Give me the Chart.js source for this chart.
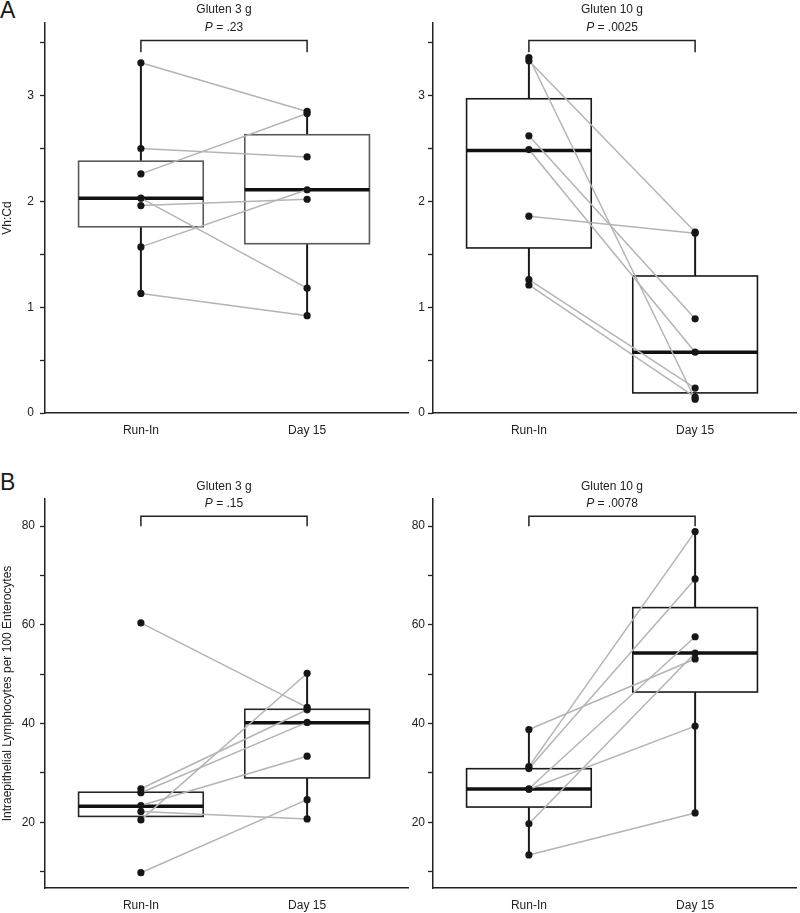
<!DOCTYPE html>
<html lang="en">
<head>
  <meta charset="UTF-8">
  <title>Vh:Cd and IEL</title>
  <script src="https://cdn.jsdelivr.net/npm/chart.js"></script>
  <style>
    body { margin: 0; background: #fff; width: 800px; height: 913px; position: relative; overflow: hidden; }
    canvas { position: absolute; }
    .letter { position: absolute; font-family: "Liberation Sans", Arial, sans-serif; font-size: 23px; color: #1a1a1a; }
  </style>
</head>
<body>
  <div class="letter" style="left:0px; top:-3px;">A</div>
  <div class="letter" style="left:0px; top:469px;">B</div>
  <canvas id="a3" width="412" height="445" style="left:0; top:0;"></canvas>
  <canvas id="a10" width="400" height="445" style="left:400px; top:0;"></canvas>
  <canvas id="b3" width="412" height="453" style="left:0; top:460px;"></canvas>
  <canvas id="b10" width="400" height="453" style="left:400px; top:460px;"></canvas>

<script>
  const categories = ['Run-In', 'Day 15'];
  const doseTitles = ['Gluten 3 g', 'Gluten 10 g'];
  const pVhcd = ['.23', '.0025'];
  const pIel = ['.15', '.0078'];

  // Vh:Cd, paired by index (Run-In -> Day 15)
  const vhcd3RunIn  = [3.31, 2.50, 2.26, 2.03, 1.96, 1.57, 1.13];
  const vhcd3Day15  = [2.85, 2.42, 2.83, 1.18, 2.02, 2.11, 0.92];
  const vhcd10RunIn = [3.36, 3.33, 2.62, 2.49, 1.86, 1.26, 1.21];
  const vhcd10Day15 = [0.13, 1.71, 0.89, 0.575, 1.70, 0.236, 0.15];

  // IEL per 100 enterocytes
  const iel3RunIn  = [60.4, 26.8, 26.0, 23.4, 22.2, 20.5, 9.8];
  const iel3Day15  = [43.3, 42.8, 40.25, 33.4, 20.7, 50.2, 24.6];
  const iel10RunIn = [38.8, 31.3, 30.9, 26.8, 26.7, 19.7, 13.4];
  const iel10Day15 = [53.1, 78.9, 69.3, 57.6, 39.5, 54.3, 21.9];

  // box stats: [whisker low, Q1, median, Q3, whisker high]
  const vhcd3BoxRunIn  = [1.13, 1.76, 2.03, 2.38, 3.31];
  const vhcd3BoxDay15  = [0.92, 1.60, 2.11, 2.63, 2.85];
  const vhcd10BoxRunIn = [1.21, 1.56, 2.48, 2.97, 3.36];
  const vhcd10BoxDay15 = [0.13, 0.19, 0.575, 1.295, 1.71];
  const iel3BoxRunIn   = [20.5, 21.2, 23.25, 26.1, 26.8];
  const iel3BoxDay15   = [20.7, 29.0, 40.2, 42.9, 50.2];
  const iel10BoxRunIn  = [13.4, 23.1, 26.76, 30.87, 38.8];
  const iel10BoxDay15  = [21.9, 46.4, 54.3, 63.5, 78.9];

  const vhcdTicks = [0, 0.5, 1, 1.5, 2, 2.5, 3, 3.5];
  const vhcdTickLabels = ['0', '', '1', '', '2', '', '3', ''];
  const ielTicks = [10, 20, 30, 40, 50, 60, 70, 80];
  const ielTickLabels = ['', '20', '', '40', '', '60', '', '80'];

  const vhcdBracket = [3.41, 3.52];
  const ielBracket = [80, 82];

  Chart.defaults.font.family = '"Liberation Sans", Arial, sans-serif';
  Chart.defaults.font.size = 12;
  Chart.defaults.color = '#222';

  const FONT = '12px "Liberation Sans", Arial, sans-serif';
  const FONT_I = 'italic 12px "Liberation Sans", Arial, sans-serif';

  const boxPlugin = {
    id: 'boxes',
    beforeDatasetsDraw(chart, args, opts) {
      const {ctx, scales: {x, y}} = chart;
      opts.stats.forEach((s, i) => {
        const cx = x.getPixelForValue(i + 1);
        const half = x.getPixelForValue(i + 1 + 0.375) - cx;
        const [lo, q1, med, q3, hi] = s.map(v => y.getPixelForValue(v));
        ctx.save();
        ctx.strokeStyle = '#1a1a1a';
        ctx.lineWidth = 2;
        ctx.beginPath();
        ctx.moveTo(cx, lo); ctx.lineTo(cx, q1);
        ctx.moveTo(cx, q3); ctx.lineTo(cx, hi);
        ctx.stroke();
        ctx.fillStyle = '#fff';
        ctx.fillRect(cx - half, q3, half * 2, q1 - q3);
        ctx.strokeStyle = opts.boxColor;
        ctx.lineWidth = 1.6;
        ctx.strokeRect(cx - half, q3, half * 2, q1 - q3);
        ctx.strokeStyle = '#111';
        ctx.lineWidth = 3.5;
        ctx.beginPath();
        ctx.moveTo(cx - half, med); ctx.lineTo(cx + half, med);
        ctx.stroke();
        ctx.restore();
      });
    }
  };

  const headPlugin = {
    id: 'head',
    afterDraw(chart, args, opts) {
      const {ctx, chartArea, scales: {x}} = chart;
      const cx = x.getPixelForValue(1.5);
      ctx.save();
      ctx.fillStyle = '#222';
      ctx.textBaseline = 'middle';
      ctx.textAlign = 'left';
      ctx.font = FONT;
      const tw = ctx.measureText(opts.title).width;
      ctx.fillText(opts.title, cx - tw / 2, chartArea.top + opts.titleDy);
      ctx.font = FONT_I;
      const pw = ctx.measureText('P').width;
      ctx.font = FONT;
      const rest = ' = ' + opts.p;
      const rw = ctx.measureText(rest).width;
      const sx = cx - (pw + rw) / 2;
      const py = chartArea.top + opts.pDy;
      ctx.font = FONT_I;
      ctx.fillText('P', sx, py);
      ctx.font = FONT;
      ctx.fillText(rest, sx + pw, py);
      ctx.restore();
    }
  };

  function makeChart(id, cfg) {
    const datasets = [];
    cfg.runIn.forEach((v, i) => {
      datasets.push({
        data: [{x: 1, y: v}, {x: 2, y: cfg.day15[i]}],
        showLine: true,
        borderColor: '#b4b4b4',
        borderWidth: 1.5,
        pointRadius: 0,
        order: 2
      });
    });
    datasets.push({
      data: cfg.runIn.map(v => ({x: 1, y: v})).concat(cfg.day15.map(v => ({x: 2, y: v}))),
      pointRadius: 3.6,
      pointBackgroundColor: '#161616',
      pointBorderWidth: 0,
      order: 1
    });
    datasets.push({
      data: [{x: 1, y: cfg.bracket[0]}, {x: 1, y: cfg.bracket[1]}, {x: 2, y: cfg.bracket[1]}, {x: 2, y: cfg.bracket[0]}],
      showLine: true,
      borderColor: '#222',
      borderWidth: 1.5,
      pointRadius: 0,
      order: 0
    });

    return new Chart(document.getElementById(id), {
      type: 'scatter',
      data: {datasets},
      options: {
        responsive: false,
        animation: false,
        layout: {padding: {top: cfg.padTop, left: 0, right: 0, bottom: 0}},
        plugins: {
          legend: {display: false},
          tooltip: {enabled: false},
          boxes: {stats: cfg.stats, boxColor: cfg.boxColor},
          head: {title: cfg.title, p: cfg.p, titleDy: cfg.titleDy, pDy: cfg.pDy}
        },
        scales: {
          x: {
            type: 'linear',
            min: 0.423,
            max: 2.607,
            afterBuildTicks: s => { s.ticks = [{value: 1}, {value: 2}]; },
            afterFit: s => { s.height = cfg.xHeight; },
            ticks: {
              callback: v => categories[v - 1],
              padding: 10,
              color: '#222',
              maxRotation: 0,
              autoSkip: false
            },
            grid: {display: false, drawTicks: false},
            border: {display: true, color: '#222', width: 1.5}
          },
          y: {
            min: cfg.range[0],
            max: cfg.range[1],
            afterBuildTicks: s => { s.ticks = cfg.ticks.map(v => ({value: v})); },
            afterFit: s => { s.width = cfg.yWidth; },
            ticks: {
              callback: (v, i) => cfg.tickLabels[cfg.ticks.indexOf(v)],
              padding: cfg.yPad,
              color: '#222',
              autoSkip: false
            },
            grid: {display: true, drawOnChartArea: false, drawTicks: true, tickLength: 5, tickColor: '#222', tickWidth: 1.3},
            border: {display: true, color: '#222', width: 1.5},
            title: {
              display: !!cfg.yTitle,
              text: cfg.yTitle || '',
              color: '#222',
              padding: {top: 0, bottom: 0},
              font: {size: 12}
            }
          }
        }
      },
      plugins: [boxPlugin, headPlugin]
    });
  }

  makeChart('a3', {
    runIn: vhcd3RunIn, day15: vhcd3Day15,
    stats: [vhcd3BoxRunIn, vhcd3BoxDay15], boxColor: '#5a5a5a',
    bracket: vhcdBracket, ticks: vhcdTicks, tickLabels: vhcdTickLabels,
    range: [0, 3.686], title: doseTitles[0], p: pVhcd[0],
    padTop: 23, titleDy: -13, pDy: 5, xHeight: 32, yWidth: 45, yPad: 6, yTitle: 'Vh:Cd'
  });
  makeChart('a10', {
    runIn: vhcd10RunIn, day15: vhcd10Day15,
    stats: [vhcd10BoxRunIn, vhcd10BoxDay15], boxColor: '#1a1a1a',
    bracket: vhcdBracket, ticks: vhcdTicks, tickLabels: vhcdTickLabels,
    range: [0, 3.686], title: doseTitles[1], p: pVhcd[1],
    padTop: 23, titleDy: -13, pDy: 5, xHeight: 32, yWidth: 33, yPad: 3
  });
  makeChart('b3', {
    runIn: iel3RunIn, day15: iel3Day15,
    stats: [iel3BoxRunIn, iel3BoxDay15], boxColor: '#262626',
    bracket: ielBracket, ticks: ielTicks, tickLabels: ielTickLabels,
    range: [6.7, 85.5], title: doseTitles[0], p: pIel[0],
    padTop: 39, titleDy: -12, pDy: 5, xHeight: 25, yWidth: 45, yPad: 5,
    yTitle: 'Intraepithelial Lymphocytes per 100 Enterocytes'
  });
  makeChart('b10', {
    runIn: iel10RunIn, day15: iel10Day15,
    stats: [iel10BoxRunIn, iel10BoxDay15], boxColor: '#1a1a1a',
    bracket: ielBracket, ticks: ielTicks, tickLabels: ielTickLabels,
    range: [6.7, 85.5], title: doseTitles[1], p: pIel[1],
    padTop: 39, titleDy: -12, pDy: 5, xHeight: 25, yWidth: 33, yPad: 3
  });
</script>
</body>
</html>
